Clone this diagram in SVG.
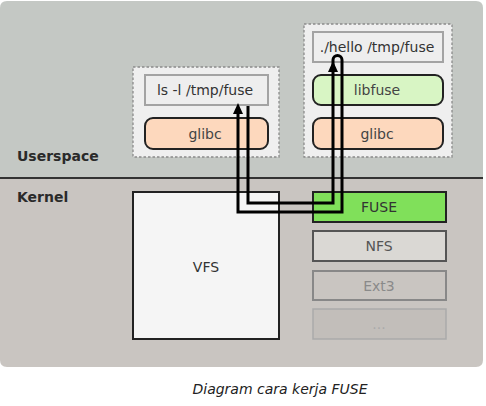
<svg xmlns="http://www.w3.org/2000/svg" width="486" height="406" viewBox="0 0 486 406">
<style>
text{font-family:"DejaVu Sans",Verdana,sans-serif;font-size:14px;text-anchor:middle}
.lbl{font-weight:bold;text-anchor:start;fill:#2a2a2a}
.grp{fill:#efefef;stroke:#8a8a8a;stroke-width:1.3;stroke-dasharray:2.5,2}
.cmd{fill:#eeeeee;stroke:#a3a3a3;stroke-width:2}
.lib{stroke:#222;stroke-width:2}
.conn{fill:none;stroke:#000;stroke-width:3}
</style>
<rect width="486" height="406" fill="#fff"/>
<g id="userspace">
<path d="M0,8 Q0,1 7,1 H476 Q483,1 483,8 V178 H0 Z" fill="#c4c8c4"/>
<text class="lbl" x="17" y="161">Userspace</text>
</g>
<g id="kernel">
<path d="M0,179 H483 V360 Q483,367 476,367 H7 Q0,367 0,360 Z" fill="#c9c5c1"/>
<line x1="0" y1="178" x2="483" y2="178" stroke="#333" stroke-width="2"/>
<text class="lbl" x="17" y="202">Kernel</text>
</g>
<g id="ls-group">
<rect class="grp" x="133" y="67" width="146" height="90"/>
</g>
<g id="ls">
<rect class="cmd" x="145" y="75" width="123" height="30"/>
<text x="205" y="95" fill="#333">ls -l /tmp/fuse</text>
</g>
<g id="glibc-left">
<rect class="lib" x="145" y="118" width="123" height="31" rx="8" fill="#fdd8bd"/>
<text x="205" y="139" fill="#444">glibc</text>
</g>
<g id="hello-group">
<rect class="grp" x="304" y="24" width="148" height="133"/>
</g>
<g id="hello">
<rect class="cmd" x="313" y="32" width="130" height="30"/>
<text x="377" y="52" fill="#333">./hello /tmp/fuse</text>
</g>
<g id="libfuse">
<rect class="lib" x="313" y="75" width="130" height="30" rx="8" fill="#d8f5c4"/>
<text x="377" y="95" fill="#444">libfuse</text>
</g>
<g id="glibc-right">
<rect class="lib" x="313" y="118" width="130" height="31" rx="8" fill="#fdd8bd"/>
<text x="377" y="139" fill="#444">glibc</text>
</g>
<g id="vfs">
<rect x="133" y="192" width="146" height="147" fill="#f5f5f5" stroke="#222" stroke-width="2"/>
<text x="206" y="272" fill="#333">VFS</text>
</g>
<g id="fuse">
<rect x="313" y="192" width="133" height="30" fill="#80e05a" stroke="#222" stroke-width="2"/>
<text x="379" y="212" fill="#333">FUSE</text>
</g>
<g id="nfs">
<rect x="313" y="231" width="133" height="30" fill="#dad8d4" stroke="#555" stroke-width="2"/>
<text x="379" y="251" fill="#555">NFS</text>
</g>
<g id="ext3">
<rect x="313" y="271" width="133" height="29" fill="#c9c5c1" stroke="#888" stroke-width="2"/>
<text x="379" y="291" fill="#8a8a8a">Ext3</text>
</g>
<g id="more">
<rect x="313" y="309" width="133" height="30" fill="#c2beba" stroke="#aaa" stroke-width="1.5"/>
<text x="379" y="329" fill="#aaa" font-size="11">...</text>
</g>
<g id="connectors">
<path class="conn" d="M248,106 V203 H333 V66"/>
<polygon points="333,61 328,72 338,72" fill="#000"/>
<path class="conn" d="M333,66 V60 A4.5,4.5 0 0 1 342,60 V212 H238 V108"/>
<polygon points="238,103 233,114 243,114" fill="#000"/>
</g>
<text x="280" y="394" font-family="'Liberation Sans',Arial,sans-serif" font-style="italic" font-size="13.5" fill="#222">Diagram cara kerja FUSE</text>
</svg>
